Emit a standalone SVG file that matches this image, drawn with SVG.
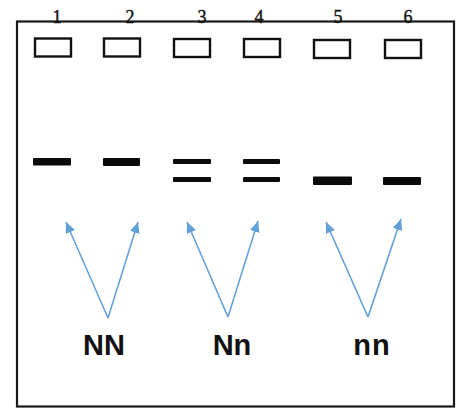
<svg xmlns="http://www.w3.org/2000/svg" width="456" height="408" viewBox="0 0 456 408">
  <style>
    .frame { fill: none; stroke: #1a1a1a; stroke-width: 2.2; }
    .well { fill: #fff; stroke: #111; stroke-width: 2.4; }
    .band { fill: #0a0a0a; }
    .lane-no { font-family: "Liberation Serif", serif; font-size: 18px; fill: #111; stroke: #111; stroke-width: 0.4; text-anchor: middle; }
    .geno { font-family: "Liberation Sans", Arial, sans-serif; font-weight: bold; font-size: 29px; fill: #111; text-anchor: middle; }
    .arrow { stroke: #62a0d8; stroke-width: 1.6; fill: none; marker-end: url(#head); }
  </style>
  <defs>
    <marker id="head" markerUnits="userSpaceOnUse" markerWidth="12" markerHeight="10" refX="11" refY="5" orient="auto">
      <path d="M0,0 L11,5 L0,10 Z" fill="#62a0d8"/>
    </marker>
  </defs>

  <rect width="456" height="408" fill="#fff"/>

  <!-- gel outline -->
  <g id="gel">
    <rect class="frame" x="17" y="21.5" width="437" height="385"/>
  </g>

  <!-- lane numbers sitting on the top edge -->
  <g id="lane-numbers">
    <text class="lane-no" x="57" y="23">1</text>
    <text class="lane-no" x="130" y="23">2</text>
    <text class="lane-no" x="202" y="23">3</text>
    <text class="lane-no" x="259" y="23">4</text>
    <text class="lane-no" x="338" y="23">5</text>
    <text class="lane-no" x="408" y="23">6</text>
  </g>

  <!-- loading wells -->
  <g id="wells">
    <rect class="well" x="35" y="38.5" width="36" height="18"/>
    <rect class="well" x="104" y="38.5" width="36" height="18"/>
    <rect class="well" x="174" y="39" width="36" height="18"/>
    <rect class="well" x="244" y="39" width="36" height="18"/>
    <rect class="well" x="314" y="40" width="36" height="18"/>
    <rect class="well" x="385" y="40" width="36" height="18"/>
  </g>

  <!-- DNA bands -->
  <g id="lane1"><rect class="band" x="33" y="158" width="38" height="7.5" rx="1"/></g>
  <g id="lane2"><rect class="band" x="103" y="158" width="37" height="8" rx="1"/></g>
  <g id="lane3">
    <rect class="band" x="173" y="159" width="38" height="5" rx="1"/>
    <rect class="band" x="173" y="177" width="38" height="5" rx="1"/>
  </g>
  <g id="lane4">
    <rect class="band" x="243" y="159" width="37" height="5" rx="1"/>
    <rect class="band" x="243" y="177" width="37" height="5" rx="1"/>
  </g>
  <g id="lane5"><rect class="band" x="313" y="176.5" width="39" height="8.5" rx="1"/></g>
  <g id="lane6"><rect class="band" x="383" y="177" width="38" height="8" rx="1"/></g>

  <!-- genotype pointers -->
  <g id="connectors">
    <line class="arrow" x1="108" y1="318" x2="66" y2="222"/>
    <line class="arrow" x1="108" y1="318" x2="138" y2="222"/>
    <line class="arrow" x1="228" y1="317" x2="187" y2="222"/>
    <line class="arrow" x1="228" y1="317" x2="258" y2="221"/>
    <line class="arrow" x1="368" y1="317" x2="326" y2="222"/>
    <line class="arrow" x1="368" y1="317" x2="401" y2="219"/>
  </g>

  <!-- genotype labels -->
  <g id="label-NN"><text class="geno" x="104" y="355">NN</text></g>
  <g id="label-Nn"><text class="geno" x="232" y="355">Nn</text></g>
  <g id="label-nn"><text class="geno" x="372" y="355" letter-spacing="1">nn</text></g>
</svg>
